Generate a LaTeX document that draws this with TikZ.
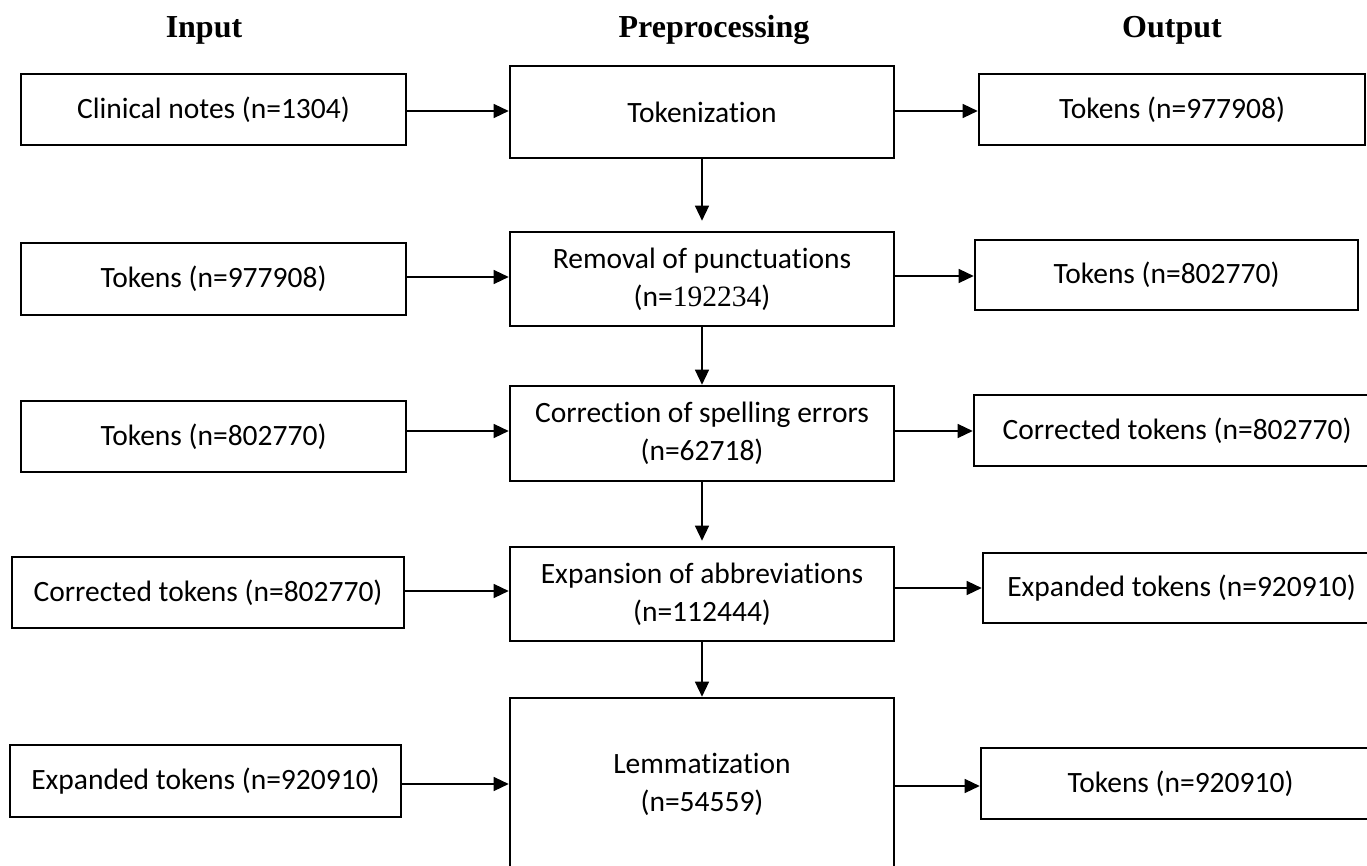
\documentclass[tikz,border=0pt]{standalone}
\usepackage{fontspec}
\setmainfont{Carlito}[Ligatures=NoCommon]
\newfontfamily\headfont{Liberation Serif}
\usetikzlibrary{arrows.meta}

\begin{document}
\begin{tikzpicture}[x=1pt,y=-1pt,
  stagebox/.style={draw, line width=2.6pt, inner sep=0pt, align=center,
    font=\fontsize{29.5}{38}\selectfont},
  header/.style={anchor=base, font=\headfont\bfseries\fontsize{32}{36}\selectfont},
  flow/.style={line width=1.3pt, -{Triangle[length=15pt,width=14pt]}}]

\useasboundingbox (0,0) rectangle (1367,866);
\begin{scope}
\clip (0,0) rectangle (1367,866);

% column titles
\node[header] (hin)  at (204,38)  {Input};
\node[header] (hpre) at (714,38)  {Preprocessing};
\node[header] (hout) at (1172,38) {Output};

% input column
\node[stagebox, minimum width=385, minimum height=71] (L1) at (213.5,109.5) {Clinical notes (n=1304)};
\node[stagebox, minimum width=385, minimum height=72] (L2) at (213.5,279)   {Tokens (n=977908)};
\node[stagebox, minimum width=385, minimum height=71] (L3) at (213.5,436.5) {Tokens (n=802770)};
\node[stagebox, minimum width=392, minimum height=71] (L4) at (208,592.5)   {Corrected tokens (n=802770)};
\node[stagebox, minimum width=391, minimum height=72] (L5) at (205.5,781)   {Expanded tokens (n=920910)};

% preprocessing column
\node[stagebox, minimum width=384, minimum height=92]  (M1) at (702,112)   {Tokenization};
\node[stagebox, minimum width=384, minimum height=94]  (M2) at (702,279)   {Removal of punctuations\\(n={\headfont 192234})};
\node[stagebox, minimum width=384, minimum height=95]  (M3) at (702,433.5) {Correction of spelling errors\\(n=62718)};
\node[stagebox, minimum width=384, minimum height=94]  (M4) at (702,594)   {Expansion of abbreviations\\(n=112444)};
\node[stagebox, minimum width=384, minimum height=172] (M5) at (702,784)   {Lemmatization\\(n=54559)};

% output column
\node[stagebox, minimum width=386, minimum height=71] (R1) at (1172,109.5)   {Tokens (n=977908)};
\node[stagebox, minimum width=383, minimum height=70] (R2) at (1166.5,275)   {Tokens (n=802770)};
\node[stagebox, minimum width=406, minimum height=71] (R3) at (1177,430.5)   {Corrected tokens (n=802770)};
\node[stagebox, minimum width=397, minimum height=70] (R4) at (1181.5,588)   {Expanded tokens (n=920910)};
\node[stagebox, minimum width=399, minimum height=71] (R5) at (1180.5,783.5) {Tokens (n=920910)};

% input -> preprocessing
\draw[flow] (L1.east |- 0,111) -- (M1.west |- 0,111);
\draw[flow] (L2.east |- 0,277) -- (M2.west |- 0,277);
\draw[flow] (L3.east |- 0,431) -- (M3.west |- 0,431);
\draw[flow] (L4.east |- 0,591) -- (M4.west |- 0,591);
\draw[flow] (L5.east |- 0,784) -- (M5.west |- 0,784);

% preprocessing -> output
\draw[flow] (M1.east |- 0,111) -- (R1.west |- 0,111);
\draw[flow] (M2.east |- 0,276) -- (R2.west |- 0,276);
\draw[flow] (M3.east |- 0,431) -- (R3.west |- 0,431);
\draw[flow] (M4.east |- 0,588) -- (R4.west |- 0,588);
\draw[flow] (M5.east |- 0,786) -- (R5.west |- 0,786);

% preprocessing chain
\draw[flow, shorten >=10pt] (M1.south) -- (M2.north);
\draw[flow] (M2.south) -- (M3.north);
\draw[flow, shorten >=5pt] (M3.south) -- (M4.north);
\draw[flow] (M4.south) -- (M5.north);
\end{scope}
\end{tikzpicture}
\end{document}
